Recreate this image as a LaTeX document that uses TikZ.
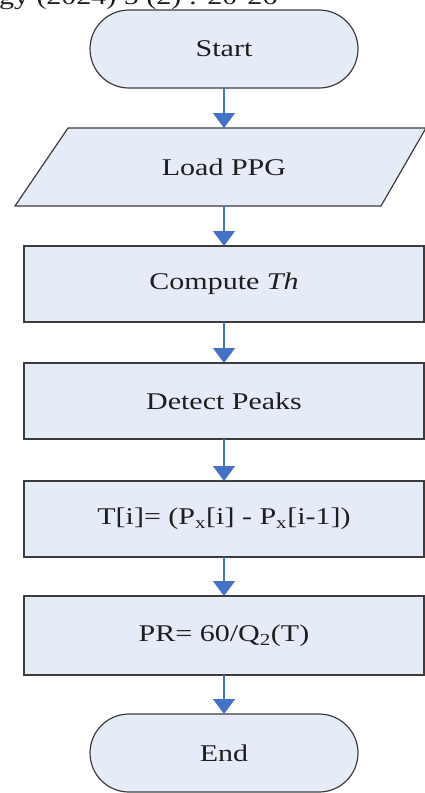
\documentclass[tikz,border=0pt]{standalone}
\usepackage{fontspec}
\setmainfont{Liberation Serif}
\usetikzlibrary{arrows.meta}
\definecolor{boxfill}{HTML}{E6ECF7}
\definecolor{boxline}{HTML}{3C3C3C}
\definecolor{flow}{HTML}{4472C4}
\definecolor{ink}{HTML}{1E1E1E}
% labels are set slightly wide
\newcommand{\wtext}[1]{\scalebox{1.25}[1]{#1}}

\begin{document}
\begin{tikzpicture}[x=1pt,y=-1pt,
  lbl/.style={font=\fontsize{24}{28}\selectfont, text=ink, inner sep=0pt, outer sep=0pt},
  termbox/.style={lbl, draw=boxline, fill=boxfill, line width=1.2pt,
    rounded corners=39pt, minimum width=268pt, minimum height=78pt},
  procbox/.style={lbl, draw=boxline, fill=boxfill, line width=1.4pt,
    minimum width=400pt, minimum height=76pt},
  iobox/.style={draw=boxline, fill=boxfill, line width=1.2pt},
  flowarrow/.style={draw=flow, line width=1.3pt, -{Triangle[width=22pt,length=15pt]}}
]
\useasboundingbox (0,0) rectangle (425,793);
\clip (0,0) rectangle (425,793);

% running header
\node[lbl, anchor=base west] (hdr) at (-1,4) {\wtext{gy (2024) 5 (2) : 20-26}};

% terminators and steps
\node[termbox] (start) at (224,49) {\wtext{Start}};

\draw[iobox] (68,128) -- (426,128) -- (381,206) -- (15,206) -- cycle;
\node[lbl, minimum height=78pt] (load) at (224,167) {\wtext{Load PPG}};

\node[procbox] (th) at (224,284) {\wtext{Compute \textit{Th}}};
\node[procbox] (peaks) at (224,401) {\wtext{Detect Peaks}};
\node[procbox] (intv) at (224,519) {\wtext{T[i]= (P\textsubscript{x}[i] - P\textsubscript{x}[i-1])}};
\node[procbox, minimum height=79pt] (rate) at (224,635.5) {\wtext{PR= 60/Q\textsubscript{2}(T)}};
\node[termbox] (stop) at (224,753) {\wtext{End}};

% flow
\draw[flowarrow] (start.south) -- (load.north);
\draw[flowarrow] (load.south) -- (th.north);
\draw[flowarrow] (th.south) -- (peaks.north);
\draw[flowarrow] (peaks.south) -- (intv.north);
\draw[flowarrow] (intv.south) -- (rate.north);
\draw[flowarrow] (rate.south) -- (stop.north);
\end{tikzpicture}
\end{document}
